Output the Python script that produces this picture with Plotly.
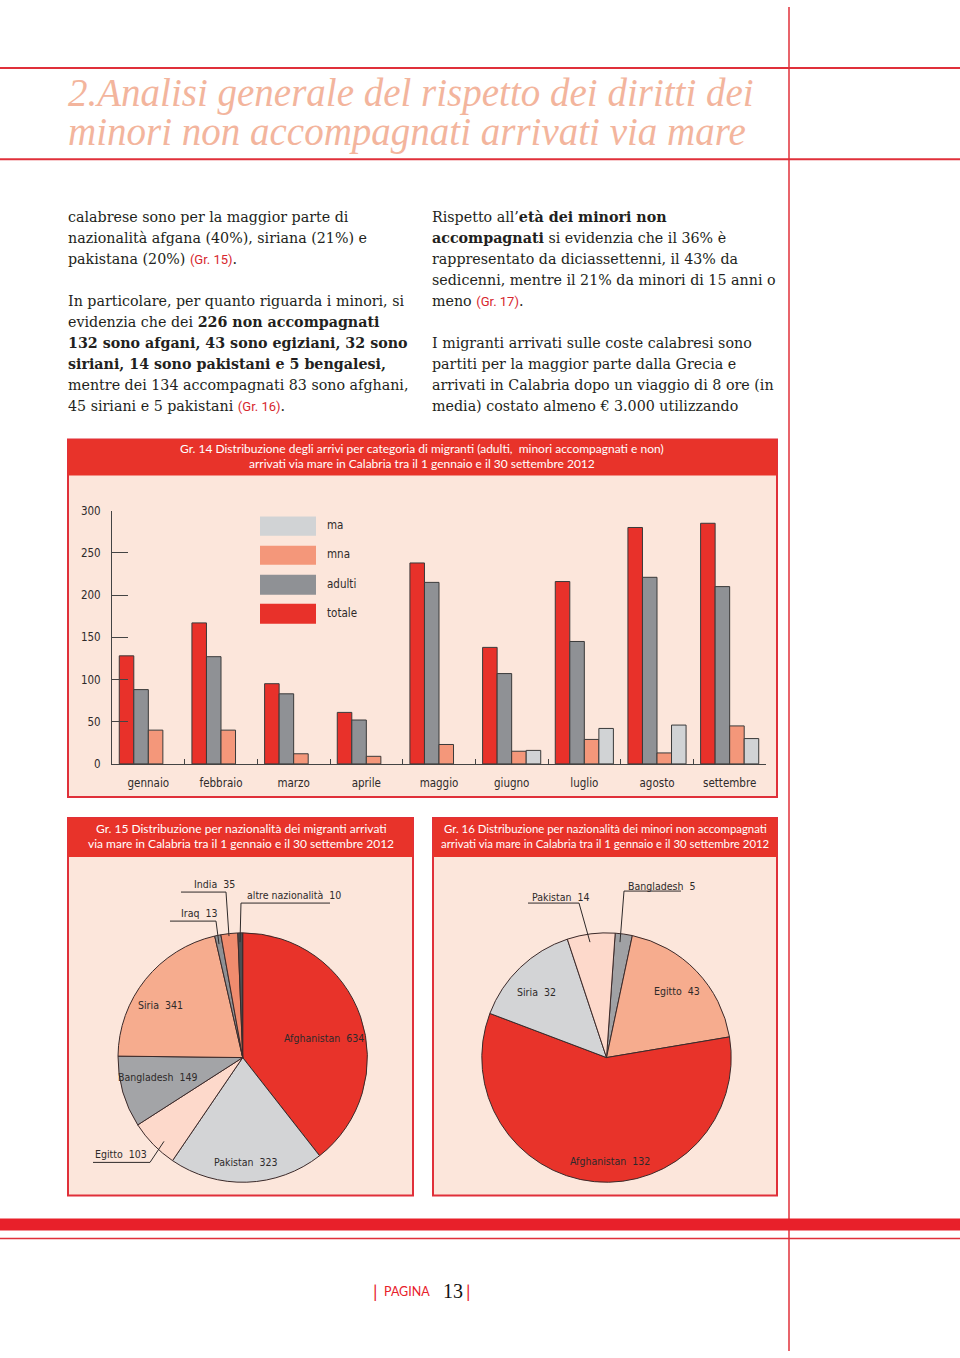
import plotly.graph_objects as go

W, H = 960, 1358
# the captured page shows the figure squeezed into rows 8..1350; compensate vertically
Y_OFF, Y_SCALE = 8.0, 0.9885
def X(px): return px / W
def Y(py): return 1 - ((py - Y_OFF) / Y_SCALE) / H

# ---------------- data ----------------
months = ["gennaio", "febbraio", "marzo", "aprile", "maggio", "giugno", "luglio", "agosto", "settembre"]
totale = [128, 167, 95, 61, 238, 138, 216, 280, 285]
adulti = [88, 127, 83, 52, 215, 107, 145, 221, 210]
mna = [40, 40, 12, 9, 23, 15, 29, 13, 45]
ma = [None, None, None, None, None, 16, 42, 46, 30]
y_ticks = [0, 50, 100, 150, 200, 250, 300]

naz_labels = ["Afghanistan", "Pakistan", "Egitto", "Bangladesh", "Siria", "Iraq", "India", "altre nazionalità"]
naz_values = [634, 323, 103, 149, 341, 13, 35, 10]

mna_labels = ["Bangladesh", "Egitto", "Afghanistan", "Siria", "Pakistan"]
mna_values = [5, 43, 132, 32, 14]

# ---------------- styles ----------------
RED = "#E8332A"
LINE_RED = "#E0303A"
PINK = "#FCE6DB"
C_TOT = "#E8312A"
C_ADU = "#8F9195"
C_MNA = "#F4977A"
C_MA = "#D1D3D5"
DARK = "#2E2A2A"
NARROW = "Liberation Sans Narrow, DejaVu Sans Condensed, Roboto, sans-serif"
GILL = "Lato, Open Sans, sans-serif"
SERIF = "Liberation Serif, Times New Roman, serif"
BODY = "DejaVu Serif, serif"

naz_colors = {"Afghanistan": "#E8332A", "Pakistan": "#D3D4D6", "Egitto": "#FDD9CB",
              "Bangladesh": "#A3A4A7", "Siria": "#F6AC8E", "Iraq": "#8E9094",
              "India": "#F08C6E", "altre nazionalità": "#4D4E52"}
mna_colors = {"Bangladesh": "#A0A1A4", "Egitto": "#F6AC8E", "Afghanistan": "#E8332A",
              "Siria": "#D3D4D6", "Pakistan": "#FDD9CB"}

fig = go.Figure()

# ---------------- bar chart ----------------
for name, vals, col in [("totale", totale, C_TOT), ("adulti", adulti, C_ADU),
                        ("mna", mna, C_MNA), ("ma", ma, C_MA)]:
    fig.add_trace(go.Bar(x=months, y=vals, name=name, showlegend=False,
                         marker=dict(color=col, line=dict(color="#3a3a3a", width=1))))

# ---------------- pies ----------------
r = 126
c1 = (242.7, 1057.3)
c2 = (606.5, 1057.3)
def pie_domain(c):
    cy = 1 - ((c[1] - Y_OFF) / Y_SCALE) / H
    return dict(x=[X(c[0] - r), X(c[0] + r)], y=[cy - r / H, cy + r / H])

fig.add_trace(go.Pie(labels=naz_labels, values=naz_values, sort=False, direction="clockwise",
                     rotation=0, textinfo="none", showlegend=False,
                     marker=dict(colors=[naz_colors[l] for l in naz_labels], line=dict(color="#3b2a2a", width=1)),
                     domain=pie_domain(c1)))
fig.add_trace(go.Pie(labels=mna_labels, values=mna_values, sort=False, direction="clockwise",
                     rotation=4, textinfo="none", showlegend=False,
                     marker=dict(colors=[mna_colors[l] for l in mna_labels], line=dict(color="#3b2a2a", width=1)),
                     domain=pie_domain(c2)))

shapes = []
annotations = []

def rect(x0, y0, x1, y1, fill, line=None, lw=0, layer="below"):
    shapes.append(dict(type="rect", xref="paper", yref="paper", x0=X(x0), x1=X(x1), y0=Y(y1), y1=Y(y0),
                       fillcolor=fill, line=dict(color=line or fill, width=lw), layer=layer))

def hline(y, x0, x1, color, w, layer="below"):
    shapes.append(dict(type="line", xref="paper", yref="paper", x0=X(x0), x1=X(x1), y0=Y(y), y1=Y(y),
                       line=dict(color=color, width=w), layer=layer))

def path(points, color=DARK, w=1):
    d = "M " + " L ".join(f"{X(px):.5f},{Y(py):.5f}" for px, py in points)
    shapes.append(dict(type="path", xref="paper", yref="paper", path=d,
                       line=dict(color=color, width=w), layer="above"))

def text(x, y, s, size=12, family=NARROW, color=DARK, xanchor="left"):
    annotations.append(dict(xref="paper", yref="paper", x=X(x), y=Y(y), text=s, showarrow=False,
                            xanchor=xanchor, yanchor="middle", align="left",
                            font=dict(size=size, family=family, color=color)))

# page lines
hline(69, 0, 960, LINE_RED, 2)
hline(160, 0, 960, LINE_RED, 2)
shapes.append(dict(type="line", xref="paper", yref="paper", x0=X(789), x1=X(789), y0=0, y1=1,
                   line=dict(color=LINE_RED, width=1.5), layer="below"))
rect(0, 1218, 960, 1230, "#E8202A")
hline(1238, 0, 960, LINE_RED, 1.5)

# title
TITLE_C = "#F3B59D"
text(66, 94, "<i>2.Analisi generale del rispetto dei diritti dei</i>", 39, SERIF, TITLE_C)
text(66, 133, "<i>minori non accompagnati arrivati via mare</i>", 39, SERIF, TITLE_C)

# paragraphs
RS = "<span style='font-family:Roboto;color:#D7262E;font-size:13px'>"
left_lines = [
    (216, "calabrese sono per la maggior parte di"),
    (237, "nazionalità afgana (40%), siriana (21%) e"),
    (258, "pakistana (20%) " + RS + "(Gr. 15)</span>."),
    (300, "In particolare, per quanto riguarda i minori, si"),
    (321, "evidenzia che dei <b>226 non accompagnati</b>"),
    (342, "<b>132 sono afgani, 43 sono egiziani, 32 sono</b>"),
    (363, "<b>siriani, 14 sono pakistani e 5 bengalesi,</b>"),
    (384, "mentre dei 134 accompagnati 83 sono afghani,"),
    (405, "45 siriani e 5 pakistani " + RS + "(Gr. 16)</span>."),
]
right_lines = [
    (216, "Rispetto all’<b>età dei minori non</b>"),
    (237, "<b>accompagnati</b> si evidenzia che il 36% è"),
    (258, "rappresentato da diciassettenni, il 43% da"),
    (279, "sedicenni, mentre il 21% da minori di 15 anni o"),
    (300, "meno " + RS + "(Gr. 17)</span>."),
    (342, "I migranti arrivati sulle coste calabresi sono"),
    (363, "partiti per la maggior parte dalla Grecia e"),
    (384, "arrivati in Calabria dopo un viaggio di 8 ore (in"),
    (405, "media) costato almeno € 3.000 utilizzando"),
]
for y, s in left_lines:
    text(66, y + 2, s, 14.25, BODY, "#231F20")
for y, s in right_lines:
    text(430, y + 2, s, 14.25, BODY, "#231F20")

# boxes
def box(x0, y0, x1, y1, yh, lines, cx, fs):
    rect(x0, y0, x1, y1, PINK, LINE_RED, 2)
    rect(x0, y0, x1, yh, RED)
    for i, s in enumerate(lines):
        text(cx, y0 + 9 + 15 * i + (yh - y0 - 36) / 2, s, fs, GILL, "white", "center")

box(68, 440, 777, 797, 476,
    ["Gr. 14 Distribuzione degli arrivi per categoria di migranti (adulti,  minori accompagnati e non)",
     "arrivati via mare in Calabria tra il 1 gennaio e il 30 settembre 2012"], 422, 12)
box(68, 818, 413, 1195, 857,
    ["Gr. 15 Distribuzione per nazionalità dei migranti arrivati",
     "via mare in Calabria tra il 1 gennaio e il 30 settembre 2012"], 241, 12)
box(433, 818, 777, 1195, 857,
    ["Gr. 16 Distribuzione per nazionalità dei minori non accompagnati",
     "arrivati via mare in Calabria tra il 1 gennaio e il 30 settembre 2012"], 605, 11.4)

# bar legend (drawn as swatches)
leg = [("ma", C_MA, 517, 536), ("mna", C_MNA, 546, 565), ("adulti", C_ADU, 575, 595), ("totale", C_TOT, 604, 624)]
for name, col, y0, y1 in leg:
    rect(260, y0, 316, y1, col, layer="above")
    text(325, (y0 + y1) / 2 - 1, name, 11.5, NARROW, DARK)

# pie labels
sep = "\u00a0\u00a0"
naz_pos = {"Afghanistan": (324, 1038), "Pakistan": (246, 1162), "Bangladesh": (157, 1077),
           "Siria": (160, 1005), "Egitto": (93, 1154), "Iraq": (179, 913),
           "India": (192, 884), "altre nazionalità": (245, 895)}
naz_anchor = {"Egitto": "left", "Iraq": "left", "India": "left", "altre nazionalità": "left"}
for l, v in zip(naz_labels, naz_values):
    x, y = naz_pos[l]
    text(x, y, f"{l}{sep}{v}", 10.5, NARROW, DARK, naz_anchor.get(l, "center"))
mna_pos = {"Afghanistan": (610, 1161), "Siria": (536, 992), "Egitto": (677, 991),
           "Pakistan": (530, 897), "Bangladesh": (626, 886)}
mna_anchor = {"Pakistan": "left", "Bangladesh": "left"}
for l, v in zip(mna_labels, mna_values):
    x, y = mna_pos[l]
    text(x, y, f"{l}{sep}{v}", 10.5, NARROW, DARK, mna_anchor.get(l, "center"))

# leader lines
path([(181, 892), (226, 892), (229, 936)])          # India
path([(170, 921), (216, 921), (219, 944)])          # Iraq
path([(330, 903), (241, 903), (240, 942)])          # altre
path([(93, 1162), (150, 1162), (164, 1141)])        # Egitto
path([(528, 903), (579, 903), (590, 942)])          # Pakistan
path([(681, 891), (624, 891), (620, 942)])          # Bangladesh

# page number
text(371, 1290, "|", 18, GILL, "#E8202A")
text(382, 1291, "PAGINA", 12.5, GILL, "#E8202A")
text(441, 1290, "13", 20, SERIF, "#111111")
text(464, 1290, "|", 18, GILL, "#E8202A")

fig.update_layout(
    width=W, height=H, margin=dict(l=0, r=0, t=0, b=0),
    paper_bgcolor="white", plot_bgcolor="rgba(0,0,0,0)",
    barmode="group", bargap=0.2, bargroupgap=0,
    shapes=shapes, annotations=annotations,
    xaxis=dict(domain=[X(112), X(766)], type="category", tickson="boundaries",
               ticks="inside", ticklen=5, tickcolor="#444", showline=True, linecolor="#444",
               showgrid=False, zeroline=False, fixedrange=True,
               tickfont=dict(family=NARROW, size=11.5, color=DARK), ticklabelstandoff=8),
    yaxis=dict(domain=[Y(764), Y(511)], range=[0, 300], tickvals=y_ticks,
               ticks="inside", ticklen=16, tickcolor="#444", showline=True, linecolor="#444",
               showgrid=False, zeroline=False, fixedrange=True,
               tickfont=dict(family=NARROW, size=11.5, color=DARK), ticklabelstandoff=8),
)

fig.write_html(
    "out.html",
    config={"displayModeBar": False, "responsive": False},
    post_script=("document.documentElement.style.margin='0';document.body.style.margin='0';"
                 "document.documentElement.style.overflow='hidden';"
                 "var gd=document.getElementById('{plot_id}');gd.style.position='absolute';"
                 "gd.style.top='0px';gd.style.left='0px';"),
)
